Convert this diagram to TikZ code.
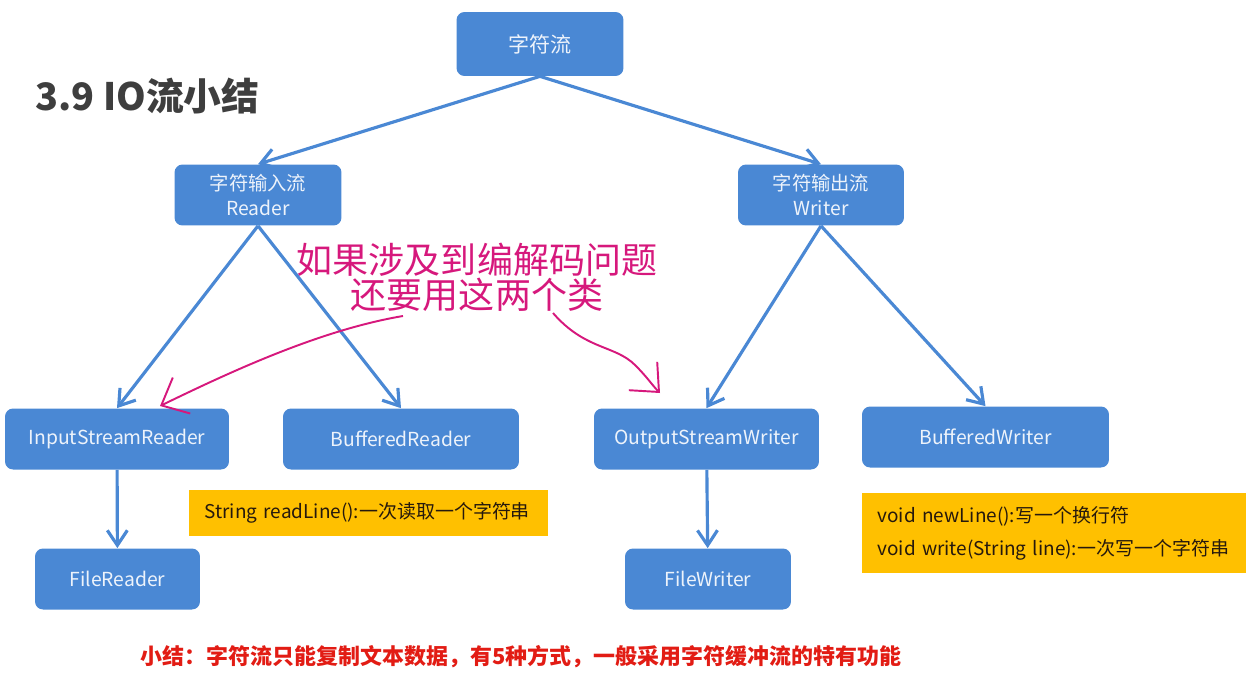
\documentclass[tikz,border=0pt]{standalone}
\usepackage{fontspec}
\setmainfont{Noto Sans CJK SC}
\usetikzlibrary{arrows.meta,positioning}
\definecolor{boxblue}{RGB}{74,136,212}
\definecolor{notepink}{RGB}{214,24,124}
\definecolor{tipyellow}{RGB}{255,192,0}
\definecolor{sumred}{RGB}{226,28,20}
\definecolor{titlegray}{RGB}{62,62,62}

\begin{document}
\begin{tikzpicture}[x=0.02cm, y=-0.02cm,
    >={Straight Barb[length=0.3cm,width=0.4cm]},
    cls/.style={rounded corners=0.16cm, fill=boxblue, text=white!90!boxblue, minimum height=1.22cm, align=center, font=\fontsize{11}{14}\selectfont},
    methodbox/.style={fill=tipyellow, text=black!80!brown, align=left, inner xsep=0.31cm, font=\fontsize{10.8}{18.7}\selectfont},
    link/.style={->, draw=boxblue, line width=1.8pt},
    scribble/.style={->, draw=notepink, line width=1.1pt, >={Straight Barb[length=0.45cm,width=0.8cm]}}]

    \useasboundingbox (0,0) rectangle (1259,680);

    \node[anchor=west, inner sep=0, text=titlegray, font=\fontsize{21.5}{24}\selectfont\bfseries] (title) at (35,96) {3.9 IO流小结};

    \node[cls, minimum width=3.34cm, minimum height=1.28cm, font=\fontsize{12}{14}\selectfont] (root) at (540,44) {字符流};
    \node[cls, minimum width=3.34cm] (reader) at (258,195) {字符输入流\\Reader};
    \node[cls, minimum width=3.32cm] (writer) at (821,195) {字符输出流\\Writer};

    \node[cls, minimum width=4.48cm] (isr) at (117,439) {InputStreamReader};
    \node[cls, minimum width=4.72cm] (breader) at (401,439) {BufferedReader};
    \node[cls, minimum width=4.5cm] (osw) at (706.5,439) {OutputStreamWriter};
    \node[cls, minimum width=4.94cm] (bwriter) at (985.5,437) {BufferedWriter};
    \node[cls, minimum width=3.3cm] (freader) at (117.5,579) {FileReader};
    \node[cls, minimum width=3.32cm] (fwriter) at (708,579) {FileWriter};

    \node[methodbox, minimum width=7.18cm, minimum height=0.92cm, text width=6.56cm] (readtip) at (368.5,513) {String readLine():一次读取一个字符串};
    \node[methodbox, minimum width=7.68cm, minimum height=1.6cm, text width=7.06cm] (writetip) at (1054,533) {void newLine():写一个换行符\\void write(String line):一次写一个字符串};

    \node[inner sep=0, text=sumred, font=\fontsize{12.5}{15}\selectfont\bfseries] (summary) at (521,657) {小结：字符流只能复制文本数据，有5种方式，一般采用字符缓冲流的特有功能};

    % handwritten remark
    \node[inner sep=0, text=notepink, align=center, font=\fontsize{20.5}{20}\selectfont] (note) at (477,277) {如果涉及到编解码问题\\还要用这两个类};
    \coordinate (n1) at (403,316);
    \coordinate (n2) at (553,313);
    \coordinate (t1) at (160,406);
    \coordinate (t2) at (660,393);

    % root -> reader / writer
    \draw[link] (root.south) -- (reader.north);
    \draw[link] (root.south) -- (writer.north);

    % reader side
    \draw[link] (reader.south) -- (isr.north);
    \draw[link] (reader.south) -- (breader.north);
    \draw[link] (isr) -- (freader);

    % writer side
    \draw[link] (writer.south) -- (osw.north);
    \draw[link] (writer.south) -- (bwriter.north);
    \draw[link] (osw) -- (fwriter);

    % remark -> the two converter classes
    \draw[scribble] (n1) .. controls (320,330) and (230,372) .. (t1);
    \draw[scribble] (n2) .. controls (585,350) and (615,345) .. (635,365) .. controls (648,378) and (652,385) .. (t2);
\end{tikzpicture}
\end{document}
